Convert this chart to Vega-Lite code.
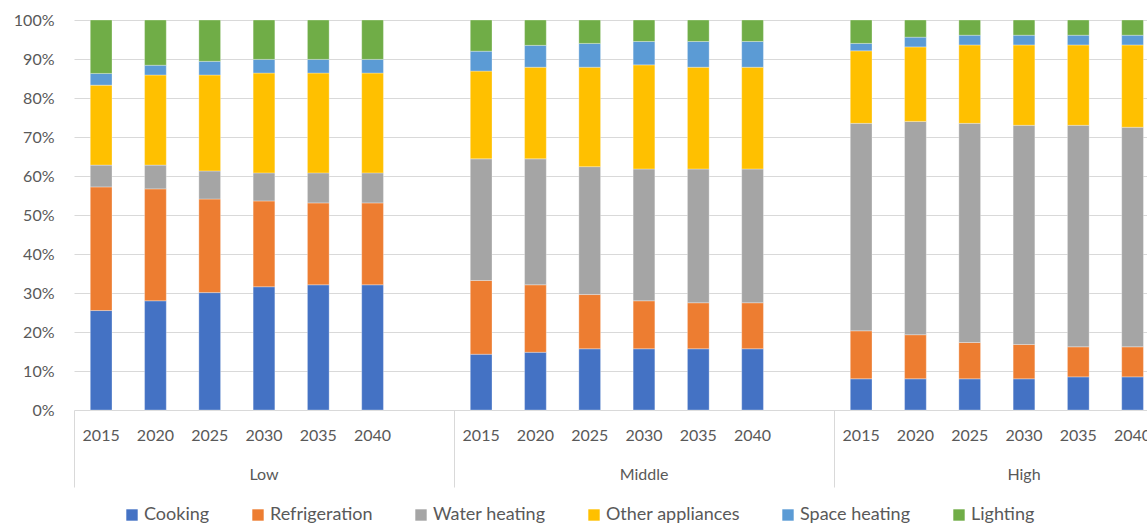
{
  "$schema": "https://vega.github.io/schema/vega-lite/v6.json",
  "width": 1073,
  "height": 390,
  "autosize": {"type": "none"},
  "padding": {"left": 74, "top": 20, "right": 0, "bottom": 114},
  "config": {
    "font": "Lato",
    "view": {"stroke": null},
    "axis": {"labelFont": "Lato", "labelColor": "#595959", "labelFontSize": 16},
    "legend": {"labelFont": "Lato"}
  },
  "data": {
    "values": [
      {"group": "Low", "year": "2015", "use": "Cooking", "share": 25.5},
      {"group": "Low", "year": "2015", "use": "Refrigeration", "share": 31.7},
      {"group": "Low", "year": "2015", "use": "Water heating", "share": 5.6},
      {"group": "Low", "year": "2015", "use": "Other appliances", "share": 20.5},
      {"group": "Low", "year": "2015", "use": "Space heating", "share": 3.0},
      {"group": "Low", "year": "2015", "use": "Lighting", "share": 13.7},
      {"group": "Low", "year": "2020", "use": "Cooking", "share": 28.0},
      {"group": "Low", "year": "2020", "use": "Refrigeration", "share": 28.7},
      {"group": "Low", "year": "2020", "use": "Water heating", "share": 6.1},
      {"group": "Low", "year": "2020", "use": "Other appliances", "share": 23.1},
      {"group": "Low", "year": "2020", "use": "Space heating", "share": 2.5},
      {"group": "Low", "year": "2020", "use": "Lighting", "share": 11.6},
      {"group": "Low", "year": "2025", "use": "Cooking", "share": 30.1},
      {"group": "Low", "year": "2025", "use": "Refrigeration", "share": 24.0},
      {"group": "Low", "year": "2025", "use": "Water heating", "share": 7.2},
      {"group": "Low", "year": "2025", "use": "Other appliances", "share": 24.6},
      {"group": "Low", "year": "2025", "use": "Space heating", "share": 3.5},
      {"group": "Low", "year": "2025", "use": "Lighting", "share": 10.6},
      {"group": "Low", "year": "2030", "use": "Cooking", "share": 31.6},
      {"group": "Low", "year": "2030", "use": "Refrigeration", "share": 22.0},
      {"group": "Low", "year": "2030", "use": "Water heating", "share": 7.2},
      {"group": "Low", "year": "2030", "use": "Other appliances", "share": 25.6},
      {"group": "Low", "year": "2030", "use": "Space heating", "share": 3.5},
      {"group": "Low", "year": "2030", "use": "Lighting", "share": 10.1},
      {"group": "Low", "year": "2035", "use": "Cooking", "share": 32.1},
      {"group": "Low", "year": "2035", "use": "Refrigeration", "share": 21.0},
      {"group": "Low", "year": "2035", "use": "Water heating", "share": 7.7},
      {"group": "Low", "year": "2035", "use": "Other appliances", "share": 25.6},
      {"group": "Low", "year": "2035", "use": "Space heating", "share": 3.5},
      {"group": "Low", "year": "2035", "use": "Lighting", "share": 10.1},
      {"group": "Low", "year": "2040", "use": "Cooking", "share": 32.1},
      {"group": "Low", "year": "2040", "use": "Refrigeration", "share": 21.0},
      {"group": "Low", "year": "2040", "use": "Water heating", "share": 7.7},
      {"group": "Low", "year": "2040", "use": "Other appliances", "share": 25.6},
      {"group": "Low", "year": "2040", "use": "Space heating", "share": 3.5},
      {"group": "Low", "year": "2040", "use": "Lighting", "share": 10.1},
      {"group": "Middle", "year": "2015", "use": "Cooking", "share": 14.3},
      {"group": "Middle", "year": "2015", "use": "Refrigeration", "share": 18.9},
      {"group": "Middle", "year": "2015", "use": "Water heating", "share": 31.2},
      {"group": "Middle", "year": "2015", "use": "Other appliances", "share": 22.5},
      {"group": "Middle", "year": "2015", "use": "Space heating", "share": 5.1},
      {"group": "Middle", "year": "2015", "use": "Lighting", "share": 8.0},
      {"group": "Middle", "year": "2020", "use": "Cooking", "share": 14.8},
      {"group": "Middle", "year": "2020", "use": "Refrigeration", "share": 17.3},
      {"group": "Middle", "year": "2020", "use": "Water heating", "share": 32.3},
      {"group": "Middle", "year": "2020", "use": "Other appliances", "share": 23.5},
      {"group": "Middle", "year": "2020", "use": "Space heating", "share": 5.6},
      {"group": "Middle", "year": "2020", "use": "Lighting", "share": 6.5},
      {"group": "Middle", "year": "2025", "use": "Cooking", "share": 15.7},
      {"group": "Middle", "year": "2025", "use": "Refrigeration", "share": 13.9},
      {"group": "Middle", "year": "2025", "use": "Water heating", "share": 32.8},
      {"group": "Middle", "year": "2025", "use": "Other appliances", "share": 25.5},
      {"group": "Middle", "year": "2025", "use": "Space heating", "share": 6.1},
      {"group": "Middle", "year": "2025", "use": "Lighting", "share": 6.0},
      {"group": "Middle", "year": "2030", "use": "Cooking", "share": 15.7},
      {"group": "Middle", "year": "2030", "use": "Refrigeration", "share": 12.3},
      {"group": "Middle", "year": "2030", "use": "Water heating", "share": 33.8},
      {"group": "Middle", "year": "2030", "use": "Other appliances", "share": 26.7},
      {"group": "Middle", "year": "2030", "use": "Space heating", "share": 6.0},
      {"group": "Middle", "year": "2030", "use": "Lighting", "share": 5.5},
      {"group": "Middle", "year": "2035", "use": "Cooking", "share": 15.7},
      {"group": "Middle", "year": "2035", "use": "Refrigeration", "share": 11.8},
      {"group": "Middle", "year": "2035", "use": "Water heating", "share": 34.3},
      {"group": "Middle", "year": "2035", "use": "Other appliances", "share": 26.1},
      {"group": "Middle", "year": "2035", "use": "Space heating", "share": 6.6},
      {"group": "Middle", "year": "2035", "use": "Lighting", "share": 5.5},
      {"group": "Middle", "year": "2040", "use": "Cooking", "share": 15.7},
      {"group": "Middle", "year": "2040", "use": "Refrigeration", "share": 11.8},
      {"group": "Middle", "year": "2040", "use": "Water heating", "share": 34.3},
      {"group": "Middle", "year": "2040", "use": "Other appliances", "share": 26.1},
      {"group": "Middle", "year": "2040", "use": "Space heating", "share": 6.6},
      {"group": "Middle", "year": "2040", "use": "Lighting", "share": 5.5},
      {"group": "High", "year": "2015", "use": "Cooking", "share": 8.0},
      {"group": "High", "year": "2015", "use": "Refrigeration", "share": 12.3},
      {"group": "High", "year": "2015", "use": "Water heating", "share": 53.2},
      {"group": "High", "year": "2015", "use": "Other appliances", "share": 18.6},
      {"group": "High", "year": "2015", "use": "Space heating", "share": 1.9},
      {"group": "High", "year": "2015", "use": "Lighting", "share": 6.0},
      {"group": "High", "year": "2020", "use": "Cooking", "share": 8.0},
      {"group": "High", "year": "2020", "use": "Refrigeration", "share": 11.3},
      {"group": "High", "year": "2020", "use": "Water heating", "share": 54.7},
      {"group": "High", "year": "2020", "use": "Other appliances", "share": 19.1},
      {"group": "High", "year": "2020", "use": "Space heating", "share": 2.5},
      {"group": "High", "year": "2020", "use": "Lighting", "share": 4.4},
      {"group": "High", "year": "2025", "use": "Cooking", "share": 8.0},
      {"group": "High", "year": "2025", "use": "Refrigeration", "share": 9.3},
      {"group": "High", "year": "2025", "use": "Water heating", "share": 56.2},
      {"group": "High", "year": "2025", "use": "Other appliances", "share": 20.1},
      {"group": "High", "year": "2025", "use": "Space heating", "share": 2.5},
      {"group": "High", "year": "2025", "use": "Lighting", "share": 3.9},
      {"group": "High", "year": "2030", "use": "Cooking", "share": 8.0},
      {"group": "High", "year": "2030", "use": "Refrigeration", "share": 8.8},
      {"group": "High", "year": "2030", "use": "Water heating", "share": 56.2},
      {"group": "High", "year": "2030", "use": "Other appliances", "share": 20.6},
      {"group": "High", "year": "2030", "use": "Space heating", "share": 2.5},
      {"group": "High", "year": "2030", "use": "Lighting", "share": 3.9},
      {"group": "High", "year": "2035", "use": "Cooking", "share": 8.5},
      {"group": "High", "year": "2035", "use": "Refrigeration", "share": 7.7},
      {"group": "High", "year": "2035", "use": "Water heating", "share": 56.8},
      {"group": "High", "year": "2035", "use": "Other appliances", "share": 20.6},
      {"group": "High", "year": "2035", "use": "Space heating", "share": 2.5},
      {"group": "High", "year": "2035", "use": "Lighting", "share": 3.9},
      {"group": "High", "year": "2040", "use": "Cooking", "share": 8.5},
      {"group": "High", "year": "2040", "use": "Refrigeration", "share": 7.7},
      {"group": "High", "year": "2040", "use": "Water heating", "share": 56.3},
      {"group": "High", "year": "2040", "use": "Other appliances", "share": 21.1},
      {"group": "High", "year": "2040", "use": "Space heating", "share": 2.5},
      {"group": "High", "year": "2040", "use": "Lighting", "share": 3.9}
    ]
  },
  "transform": [
    {"calculate": "datum.group + ' ' + datum.year", "as": "slot"},
    {"calculate": "indexof(['Cooking', 'Refrigeration', 'Water heating', 'Other appliances', 'Space heating', 'Lighting'], datum.use)", "as": "stackOrder"}
  ],
  "layer": [
    {
      "mark": {"type": "bar", "stroke": "#ffffff", "strokeWidth": 0.6, "strokeOpacity": 0.5},
      "encoding": {
        "x": {
          "field": "slot",
          "type": "nominal",
          "scale": {
            "type": "band",
            "domain": ["Low 2015", "Low 2020", "Low 2025", "Low 2030", "Low 2035", "Low 2040", "Low gap",
                       "Middle 2015", "Middle 2020", "Middle 2025", "Middle 2030", "Middle 2035", "Middle 2040", "Middle gap",
                       "High 2015", "High 2020", "High 2025", "High 2030", "High 2035", "High 2040", "High gap"],
            "range": [0, 1140],
            "paddingInner": 0.6,
            "paddingOuter": 0.3
          },
          "axis": {
            "title": null,
            "labelExpr": "indexof(datum.value, 'gap') >= 0 ? '' : split(datum.value, ' ')[1]",
            "ticks": false,
            "domain": false,
            "grid": false,
            "labelAngle": 0,
            "labelPadding": 17
          }
        },
        "y": {
          "field": "share",
          "type": "quantitative",
          "stack": "normalize",
          "scale": {"domain": [0, 1]},
          "axis": {
            "title": null,
            "format": ".0%",
            "values": [0, 0.1, 0.2, 0.3, 0.4, 0.5, 0.6, 0.7, 0.8, 0.9, 1],
            "grid": true,
            "gridColor": "#d9d9d9",
            "gridWidth": 1,
            "domain": false,
            "ticks": false,
            "labelPadding": 20
          }
        },
        "order": {"field": "stackOrder", "type": "quantitative", "sort": "ascending"},
        "color": {
          "field": "use",
          "type": "nominal",
          "sort": ["Cooking", "Refrigeration", "Water heating", "Other appliances", "Space heating", "Lighting"],
          "scale": {
            "domain": ["Cooking", "Refrigeration", "Water heating", "Other appliances", "Space heating", "Lighting"],
            "range": ["#4472C4", "#ED7D31", "#A5A5A5", "#FFC000", "#5B9BD5", "#70AD47"]
          },
          "legend": {
            "title": null,
            "orient": "none",
            "direction": "horizontal",
            "legendX": 49,
            "legendY": 486,
            "symbolType": "square",
            "symbolSize": 130,
            "symbolStrokeWidth": 0,
            "labelFontSize": 18,
            "labelColor": "#595959",
            "labelOffset": 3,
            "columnPadding": 39
          }
        }
      }
    },
    {
      "mark": {"type": "rule", "opacity": 0},
      "encoding": {
        "x": {
          "field": "group",
          "type": "nominal",
          "scale": {"type": "band", "domain": ["Low", "Middle", "High"], "range": [0, 1140], "paddingInner": 0, "paddingOuter": 0},
          "axis": {
            "orient": "bottom",
            "title": null,
            "domain": false,
            "ticks": true,
            "tickSize": 77,
            "tickColor": "#d9d9d9",
            "tickWidth": 1,
            "bandPosition": 0,
            "labelPadding": -21,
            "labelAngle": 0,
            "labelAlign": "center"
          }
        }
      }
    }
  ],
  "resolve": {"scale": {"x": "independent", "color": "shared"}}
}
